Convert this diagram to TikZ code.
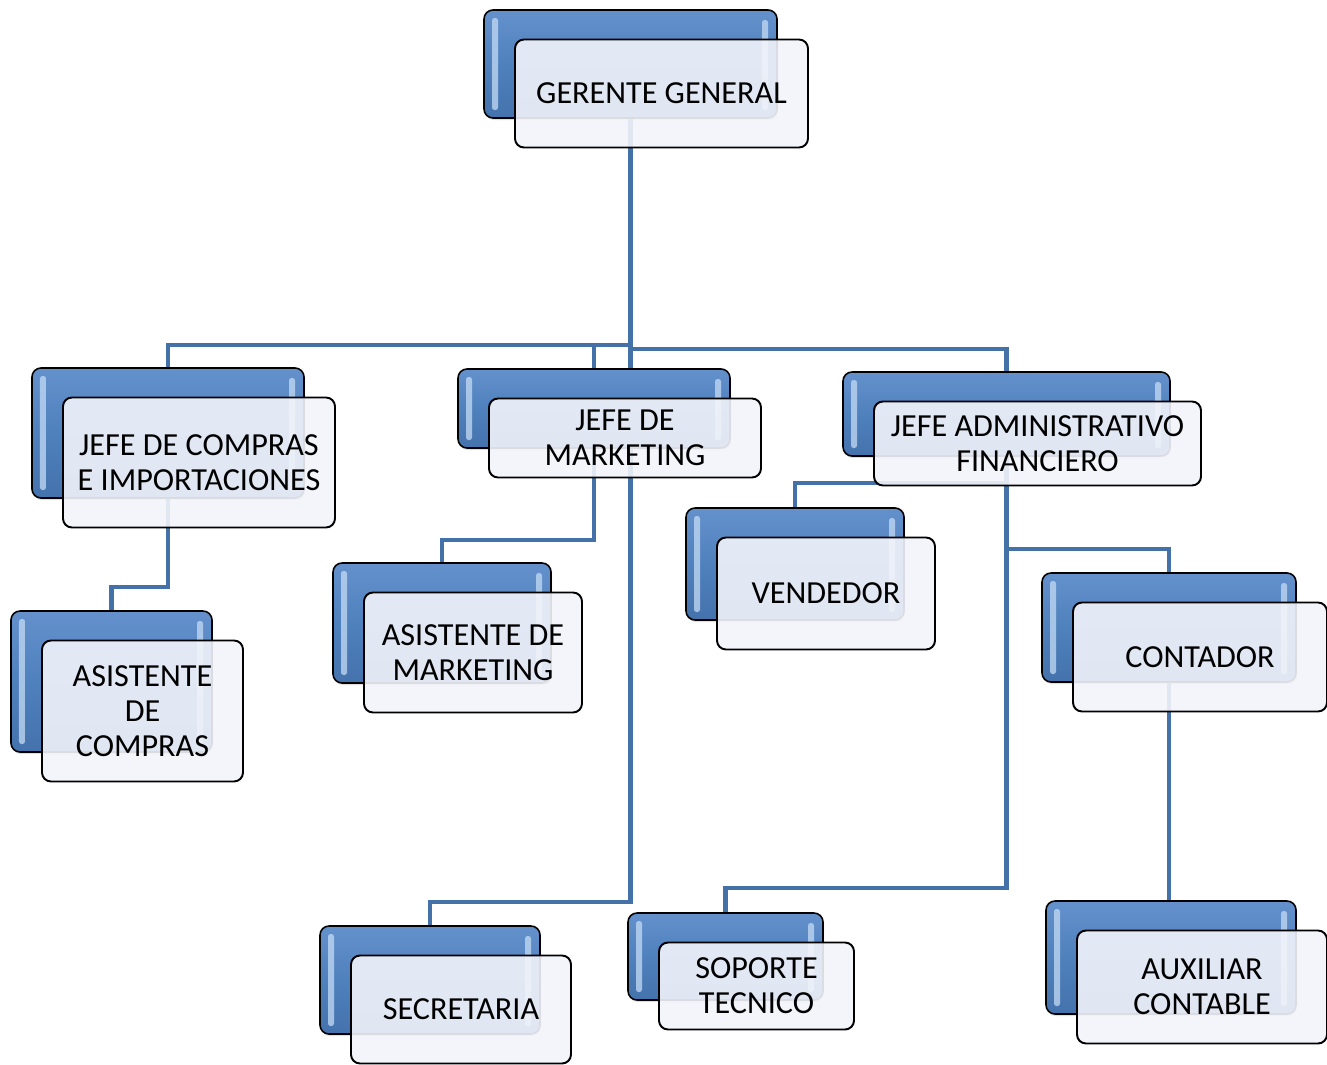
\documentclass[tikz,border=0pt]{standalone}
\usepackage{fontspec}
\setmainfont{Carlito}
\usetikzlibrary{shadows}
\pgfdeclarelayer{bg}
\pgfsetlayers{bg,main}
\definecolor{linec}{RGB}{68,114,168}
\definecolor{boxblue}{RGB}{79,129,189}
\definecolor{boxtop}{RGB}{100,145,204}
\definecolor{boxbot}{RGB}{68,114,172}
\definecolor{hilite}{RGB}{196,219,245}
\definecolor{frontfill}{RGB}{242,244,250}
\tikzset{
  conn/.style={draw=linec, line width=2.6pt},
  backbox/.style={rounded corners=0.18cm, draw=black, line width=0.9pt,
    top color=boxtop, bottom color=boxbot, middle color=boxblue, inner sep=0pt,
    drop shadow={shadow xshift=0.6pt, shadow yshift=-1.2pt, opacity=0.25},
    path picture={
      \fill[hilite, opacity=0.75, rounded corners=0.05cm]
        ([xshift=0.16cm,yshift=-0.16cm]path picture bounding box.north west) rectangle
        ([xshift=0.28cm,yshift=0.16cm]path picture bounding box.south west);
      \fill[hilite, opacity=0.75, rounded corners=0.05cm]
        ([xshift=-0.18cm,yshift=-0.2cm]path picture bounding box.north east) rectangle
        ([xshift=-0.30cm,yshift=0.16cm]path picture bounding box.south east);
    }},
  frontbox/.style={rounded corners=0.18cm, draw=black, line width=1.1pt,
    fill=frontfill, fill opacity=0.9, text opacity=1, draw opacity=1,
    align=center, inner sep=0pt, font=\fontsize{18.3}{20}\selectfont}
}
\newcommand\orgbox[6]{%
  \node[backbox, minimum width={(#4-#2)*0.02cm}, minimum height={(#5-#3)*0.02cm}]
    (b#1) at ({(#2+#4)/2},{(#3+#5)/2}) {};
  \node[frontbox, minimum width={(#4-#2)*0.02cm}, minimum height={(#5-#3)*0.02cm}]
    (f#1) at ({(#2+#4)/2+31},{(#3+#5)/2+29.5}) {#6};
}
\begin{document}
\begin{tikzpicture}[x=0.02cm, y=-0.02cm]
\useasboundingbox (0,0) rectangle (1327,1064);
\orgbox{G}{484}{10}{777}{118}{GERENTE GENERAL}
\orgbox{C}{32}{368}{304}{498}{JEFE DE COMPRAS\\E IMPORTACIONES}
\orgbox{M}{458}{369}{730}{448}{JEFE DE\\MARKETING}
\orgbox{A}{843}{372}{1170}{456}{JEFE ADMINISTRATIVO\\FINANCIERO}
\orgbox{AC}{11}{611}{212}{752}{ASISTENTE\\DE\\COMPRAS}
\orgbox{AM}{333}{563}{551}{683}{ASISTENTE DE\\MARKETING}
\orgbox{V}{686}{508}{904}{620}{VENDEDOR}
\orgbox{Con}{1042}{573}{1296}{682}{CONTADOR}
\orgbox{S}{320}{926}{540}{1034}{SECRETARIA}
\orgbox{Sop}{628}{913}{823}{1000}{SOPORTE\\TECNICO}
\orgbox{Aux}{1046}{901}{1296}{1014}{AUXILIAR\\CONTABLE}
\begin{pgfonlayer}{bg}
  \coordinate (jL) at (630.5,345);
  \coordinate (jR) at (630.5,349);
  \coordinate (kSec) at (630.5,902);
  \coordinate (yAC) at (0,587);
  \coordinate (yAM) at (0,540);
  \coordinate (yV) at (0,483);
  \coordinate (yCon) at (0,549);
  \coordinate (ySop) at (0,888);
  \draw[conn] (bG.south) -- (jR);
  \draw[conn] (jL) -| (bC.north);
  \draw[conn] (jL) -| (bM.north);
  \draw[conn] (jR) -| (bA.north);
  \draw[conn] (jR) -- (kSec) -| (bS.north);
  \draw[conn] (bC.south) -- (bC.south |- yAC) -| (bAC.north);
  \draw[conn] (bM.south) -- (bM.south |- yAM) -| (bAM.north);
  \draw[conn] (bA.south) -- (bA.south |- yV) -| (bV.north);
  \draw[conn] (bA.south) -- (bA.south |- ySop) -| (bSop.north);
  \draw[conn] (bA.south |- yCon) -| (bCon.north);
  \draw[conn] (bCon.south) -- (bCon.south |- bAux.north);
\end{pgfonlayer}
\end{tikzpicture}
\end{document}
